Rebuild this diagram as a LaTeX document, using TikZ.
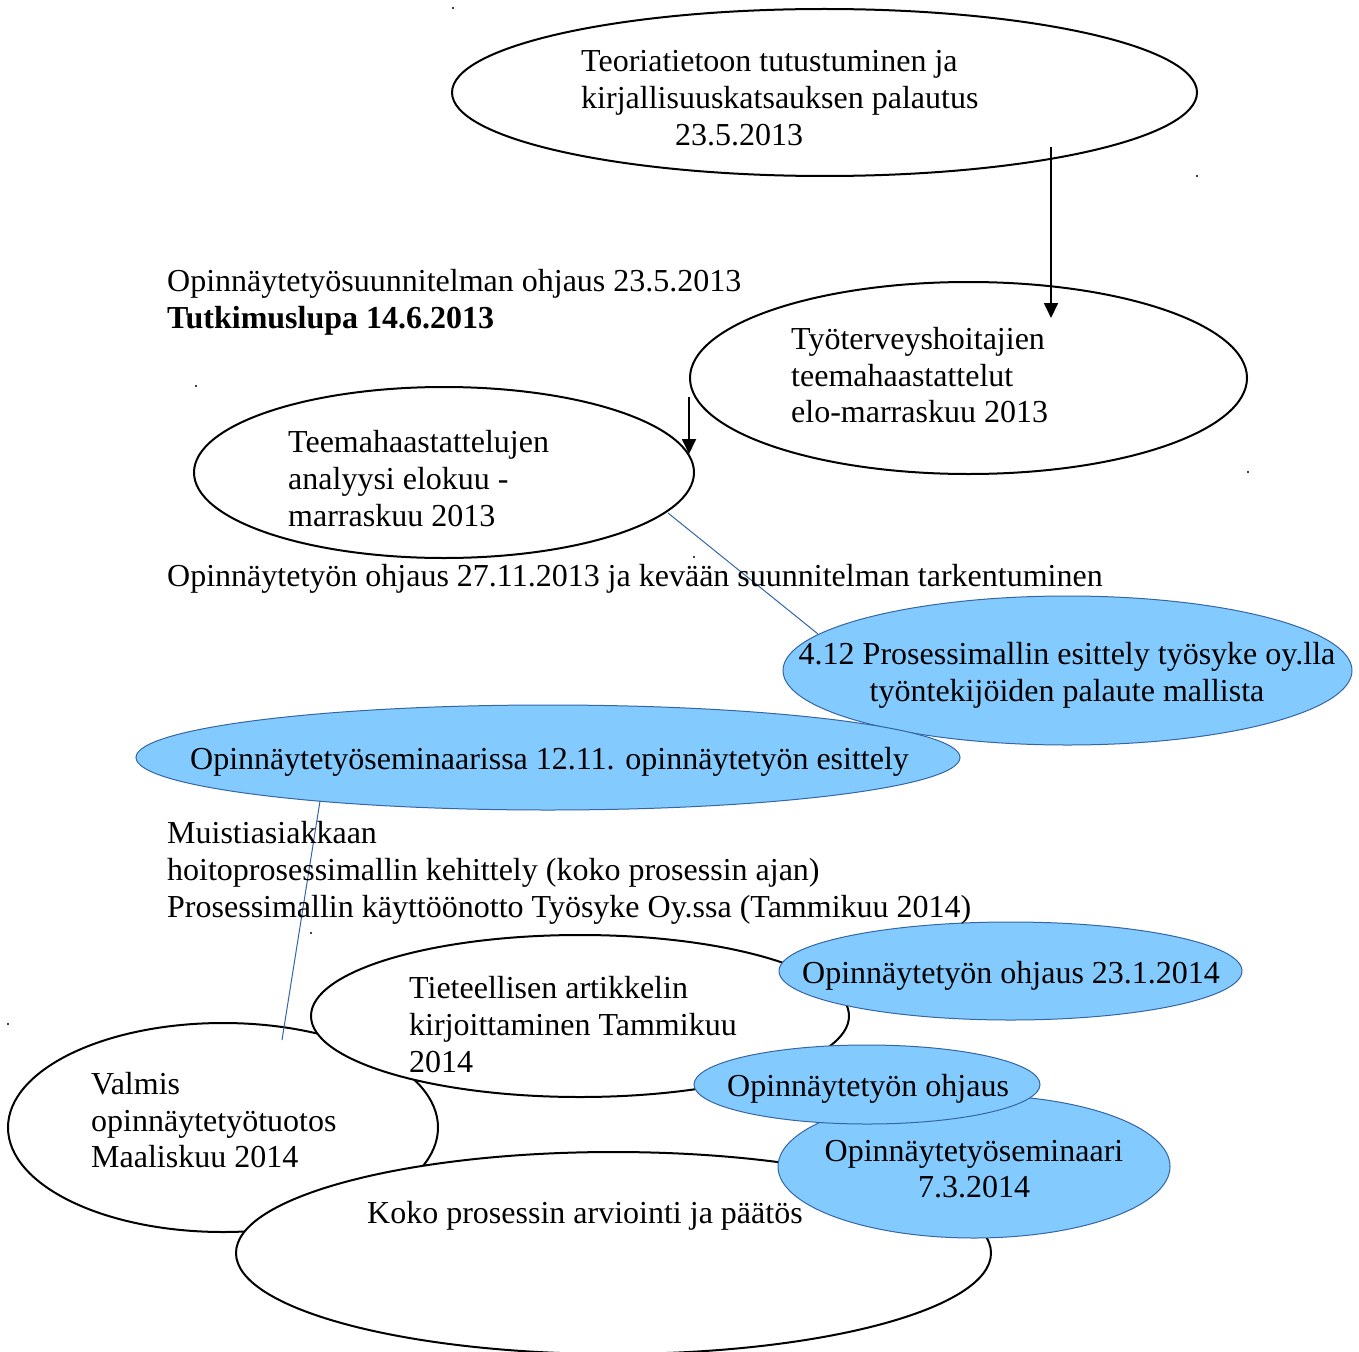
\documentclass[tikz,border=0pt]{standalone}
\usepackage{fontspec}
\setmainfont{Liberation Serif}
\usetikzlibrary{shapes.geometric,arrows.meta}
\definecolor{bfill}{HTML}{83CAFF}
\definecolor{bline}{HTML}{3465A4}
\tikzset{
  wov/.style={ellipse,draw=black,line width=2pt,fill=white,inner sep=0pt},
  bov/.style={ellipse,draw=bline,line width=1pt,fill=bfill,inner sep=0pt},
  txt/.style={anchor=base west,inner sep=0pt},
  ctxt/.style={anchor=base,inner sep=0pt},
  arr/.style={line width=1.8pt,-{Triangle[length=15pt,width=14pt]}},
  bconn/.style={draw=bline,line width=1pt},
  dotmark/.style={fill=black}
}
\begin{document}
\begin{tikzpicture}[x=1pt,y=-1pt,every node/.style={font=\fontsize{32}{37}\selectfont}]
\useasboundingbox (0,0) rectangle (1359,1351);
\clip (0,0) rectangle (1359,1351);

% top ellipses
\node[wov,minimum width=745pt,minimum height=167pt] (e1) at (824.5,92.5) {};
\node[wov,minimum width=557pt,minimum height=192pt] (e2) at (968.5,378) {};
\coordinate (a1s) at (1051,147);
\coordinate (a1e) at (1051,318);
\draw[arr] (a1s) -- (a1e);
\node[wov,minimum width=500pt,minimum height=171pt] (e3) at (444,472.5) {};
\coordinate (a2s) at (689,397);
\coordinate (a2e) at (689,454);
\draw[arr] (a2s) -- (a2e);

% blue ellipses middle
\node[bov,minimum width=569pt,minimum height=149pt] (e4) at (1067.5,670.5) {};
\node[bov,minimum width=824pt,minimum height=105pt] (e5) at (548,757.5) {};
\coordinate (b1s) at (668,513);
\coordinate (b1e) at (818,634);
\draw[bconn] (b1s) -- (b1e);

% bottom ellipses
\node[wov,minimum width=430pt,minimum height=209pt] (e10) at (223,1127.5) {};
\node[wov,minimum width=538pt,minimum height=162pt] (e6) at (580,1016) {};
\node[wov,minimum width=755pt,minimum height=202pt] (e11) at (613.5,1253) {};
\node[bov,minimum width=392pt,minimum height=143pt] (e9) at (974,1166.5) {};
\node[bov,minimum width=463pt,minimum height=98pt] (e7) at (1010.5,971) {};
\node[bov,minimum width=346pt,minimum height=79pt] (e8) at (867,1084.5) {};
\coordinate (b2s) at (320,801);
\coordinate (b2e) at (282,1040);
\draw[bconn] (b2s) -- (b2e);

% texts
\node[txt] (t1a) at (581,72) {Teoriatietoon tutustuminen ja};
\node[txt] (t1b) at (581,109) {kirjallisuuskatsauksen palautus};
\node[txt] (t1c) at (675,146) {23.5.2013};

\node[txt] (t2a) at (791,349) {Työterveyshoitajien};
\node[txt] (t2b) at (791,386) {teemahaastattelut};
\node[txt] (t2c) at (791,422) {elo-marraskuu 2013};

\node[txt] (s1) at (167,291) {Opinnäytetyösuunnitelman ohjaus 23.5.2013};
\node[txt,font=\fontsize{32}{37}\selectfont\bfseries] (s2) at (167,328) {Tutkimuslupa 14.6.2013};

\node[txt] (t3a) at (288,452) {Teemahaastattelujen};
\node[txt] (t3b) at (288,489) {analyysi elokuu -};
\node[txt] (t3c) at (288,526) {marraskuu 2013};

\node[txt] (s3) at (167,586) {Opinnäytetyön ohjaus 27.11.2013 ja kevään suunnitelman tarkentuminen};

\node[ctxt] (t4a) at (1067,664) {4.12 Prosessimallin esittely työsyke oy.lla};
\node[ctxt] (t4b) at (1067,701) {työntekijöiden palaute mallista};

\node[txt] (t5) at (190,769) {Opinnäytetyöseminaarissa 12.11. opinnäytetyön esittely};

\node[txt] (s4a) at (167,843) {Muistiasiakkaan};
\node[txt] (s4b) at (167,880) {hoitoprosessimallin kehittely (koko prosessin ajan)};
\node[txt] (s4c) at (167,917) {Prosessimallin käyttöönotto Työsyke Oy.ssa (Tammikuu 2014)};

\node[txt] (t6a) at (409,998) {Tieteellisen artikkelin};
\node[txt] (t6b) at (409,1035) {kirjoittaminen Tammikuu};
\node[txt] (t6c) at (409,1072) {2014};

\node[txt] (t7) at (802,983) {Opinnäytetyön ohjaus 23.1.2014};
\node[txt] (t8) at (727,1096) {Opinnäytetyön ohjaus};
\node[ctxt] (t9a) at (974,1161) {Opinnäytetyöseminaari};
\node[ctxt] (t9b) at (974,1197) {7.3.2014};

\node[txt] (t10a) at (91,1094) {Valmis};
\node[txt] (t10b) at (91,1131) {opinnäytetyötuotos};
\node[txt] (t10c) at (91,1167) {Maaliskuu 2014};

\node[txt] (t11) at (367,1223) {Koko prosessin arviointi ja päätös};

% stray dots
\foreach \p in {(453,8),(1197,176),(196,386),(1248,472),(694,557),(311,933),(8,1024)}
  \fill[dotmark] \p circle (1.2pt);
\end{tikzpicture}
\end{document}
